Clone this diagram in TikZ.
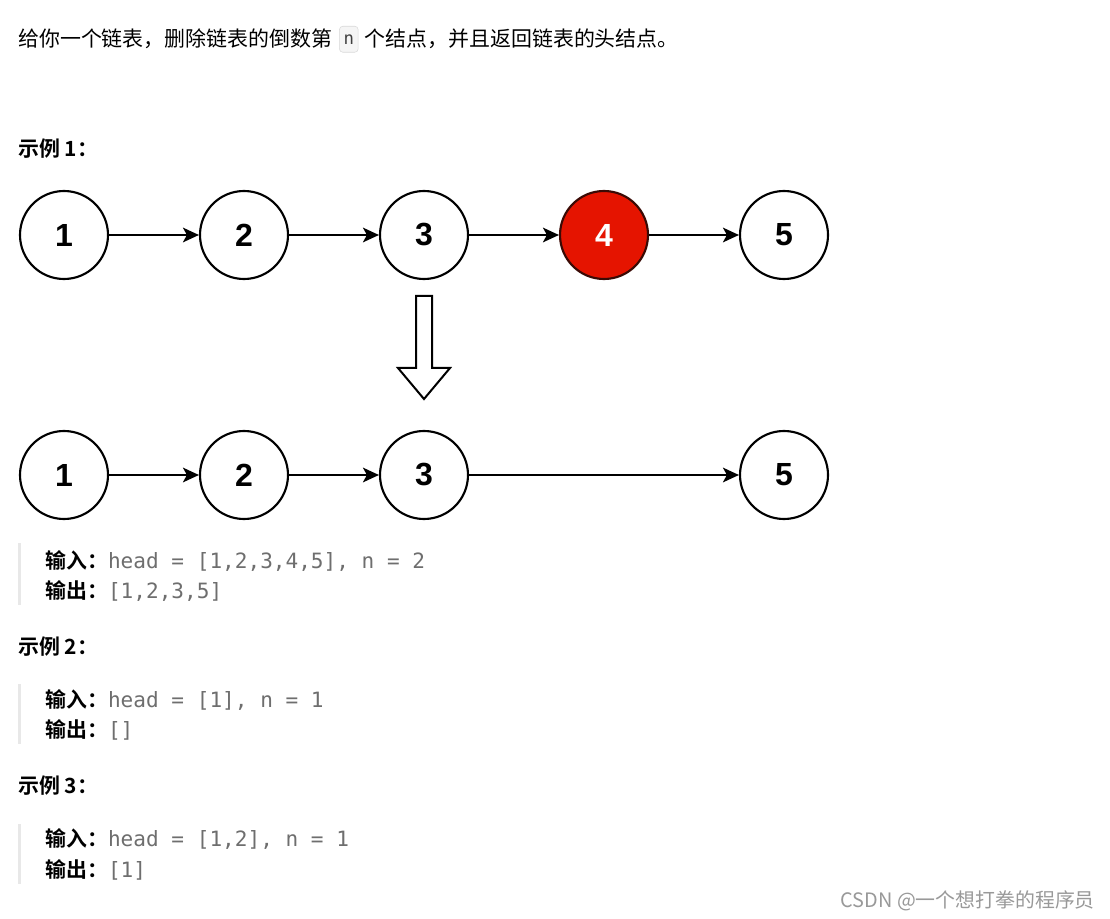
\documentclass[tikz,border=0pt]{standalone}
\usepackage{fontspec}
\setmainfont{Liberation Sans}
\setmonofont{DejaVu Sans Mono}
\newfontfamily\cjk{Noto Sans CJK SC}[BoldFont={Noto Sans CJK SC Bold}]
\usetikzlibrary{arrows.meta, positioning}
\definecolor{nodered}{HTML}{E51400}
\definecolor{noderim}{HTML}{3A0A05}
\definecolor{codegray}{HTML}{6E6E6E}
\newcommand{\codetxt}[1]{{\ttfamily\fontsize{15.8}{18}\selectfont\color{codegray}#1}}

\begin{document}
\begin{tikzpicture}[x=0.75pt, y=-0.75pt,
	listnode/.style={circle, draw, line width=1.6pt, minimum size=66pt, inner sep=0pt,
		font=\fontsize{24}{24}\selectfont\bfseries},
	link/.style={-{Stealth[length=12pt, width=11pt, inset=3pt]}, line width=1.5pt},
	txt/.style={inner sep=0pt, anchor=base west, font=\cjk\fontsize{15.7}{18}\selectfont},
	head/.style={txt, font=\cjk\fontsize{15.7}{18}\selectfont\bfseries},
	badge/.style={draw=gray!30, fill=gray!8, rounded corners=2.5pt, inner sep=0pt,
		minimum width=14pt, minimum height=19.5pt, font=\ttfamily\fontsize{13}{13}\selectfont, text=black!75},
	quotebar/.style={fill=gray!18}]
	\useasboundingbox[fill=white] (0,0) rectangle (1110,919);
	% problem statement
	\node[txt] (q1) at (18,47) {给你一个链表，删除链表的倒数第};
	\node[badge, right=5pt of q1] (nb) {n};
	\node[txt, right=4.5pt of nb.east |- q1.east, anchor=west] (q2) {个结点，并且返回链表的头结点。};
	% example 1
	\node[head] (ex1) at (18,157) {示例 1：};
	\foreach \i/\x in {1/64,2/244,3/424,5/784}
		\node[listnode] (a\i) at (\x,235) {\i};
	\node[listnode, fill=nodered, draw=noderim, text=white] (a4) at (604,235) {4};
	\foreach \i/\j in {1/2,2/3,3/4,4/5}
		\draw[link] (a\i) -- (a\j);
	% hollow arrow
	\draw[line width=1.5pt, line join=miter, fill=white]
		(416,296) -- (432,296) -- (432,368) -- (450,368) -- (424,399) -- (398,368) -- (416,368) -- cycle;
	\foreach \i/\x in {1/64,2/244,3/424,5/784}
		\node[listnode] (b\i) at (\x,475) {\i};
	\foreach \i/\j in {1/2,2/3,3/5}
		\draw[link] (b\i) -- (b\j);
	\fill[quotebar] (18,543) rectangle (21,605);
	\node[txt] (in1) at (45,568) {{\bfseries 输入：}\codetxt{head = [1,2,3,4,5], n = 2}};
	\node[txt] (out1) at (45,598) {{\bfseries 输出：}\codetxt{[1,2,3,5]}};
	% example 2
	\node[head] (ex2) at (18,654) {示例 2：};
	\fill[quotebar] (18,684) rectangle (21,744);
	\node[txt] (in2) at (45,707) {{\bfseries 输入：}\codetxt{head = [1], n = 1}};
	\node[txt] (out2) at (45,737) {{\bfseries 输出：}\codetxt{[]}};
	% example 3
	\node[head] (ex3) at (18,793) {示例 3：};
	\fill[quotebar] (18,824) rectangle (21,884);
	\node[txt] (in3) at (45,846) {{\bfseries 输入：}\codetxt{head = [1,2], n = 1}};
	\node[txt] (out3) at (45,877) {{\bfseries 输出：}\codetxt{[1]}};
	% watermark
	\node[inner sep=0pt, anchor=base east, text=black!40, font=\cjk\fontsize{14.9}{17}\selectfont]
		(wm) at (1095,907) {CSDN @一个想打拳的程序员};
\end{tikzpicture}
\end{document}
